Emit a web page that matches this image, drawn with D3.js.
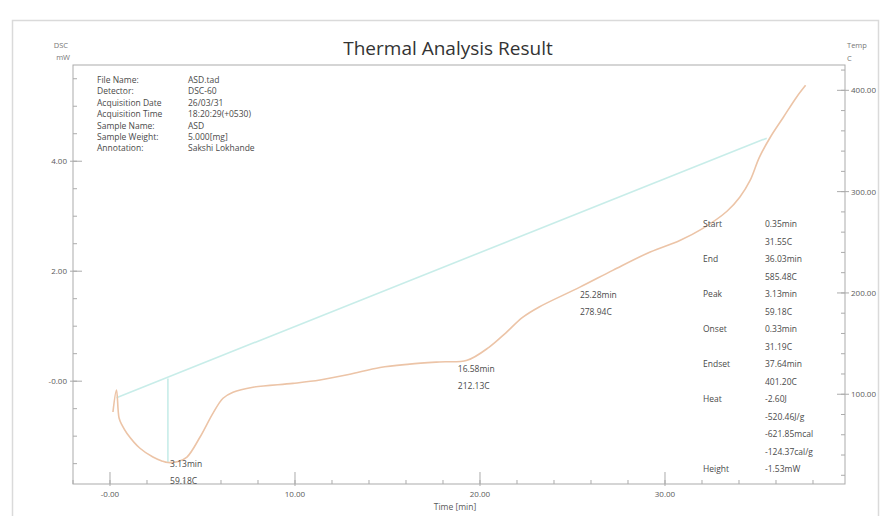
<!DOCTYPE html>
<html>
<head>
<meta charset="utf-8">
<script src="https://cdn.jsdelivr.net/npm/d3@7"></script>
<style>
  html, body { margin: 0; padding: 0; background: #fff; }
  svg { display: block; font-family: "Open Sans", "Noto Sans", sans-serif; }
</style>
</head>
<body>
<svg id="chart" width="888" height="516"></svg>
<script>
// DSC trace: time [min] vs heat flow [mW]
const timeMin = [0.16, 0.35, 0.49, 0.65, 0.92, 1.62, 2.32, 2.8, 3.13, 3.68, 4.16, 4.86, 5.57, 6.11, 6.65, 7.73, 9.89,
  11.35, 12.9, 14.6, 16.2, 17.8, 19.3, 20.5, 21.4, 22.3, 23.2, 25.4, 27.2, 29.2, 30.8, 32.05, 33.35, 34.05,
  34.6, 35.1, 35.7, 36.4, 37.1, 37.6];
const dscMw = [-0.56, -0.16, -0.67, -0.80, -0.95, -1.22, -1.38, -1.45, -1.48, -1.46, -1.38, -1.02, -0.58, -0.31, -0.20, -0.11, -0.04,
  0.02, 0.12, 0.25, 0.31, 0.35, 0.38, 0.62, 0.88, 1.16, 1.35, 1.71, 2.02, 2.35, 2.56, 2.78, 3.09, 3.35,
  3.65, 4.07, 4.44, 4.80, 5.16, 5.38];

// Integration baseline (Start -> End) and peak height marker
const baselineTime = [0.35, 35.5];
const baselineDsc = [-0.30, 4.42];
const peakTime = 3.13;
const peakRange = [-1.48, 0.05];

// Axis ticks
const xMajor = [0, 10, 20, 30];
const xTickLabels = ["-0.00", "10.00", "20.00", "30.00"];
const yMajor = [0, 2, 4];
const yTickLabels = ["-0.00", "2.00", "4.00"];
const tMajor = [100, 200, 300, 400];
const tTickLabels = ["100.00", "200.00", "300.00", "400.00"];

// Sample information block
const infoLabels = ["File Name:", "Detector:", "Acquisition Date", "Acquisition Time", "Sample Name:", "Sample Weight:", "Annotation:"];
const infoValues = ["ASD.tad", "DSC-60", "26/03/31", "18:20:29(+0530)", "ASD", "5.000[mg]", "Sakshi Lokhande"];

// Peak analysis results
const resultLabels = ["Start", "", "End", "", "Peak", "", "Onset", "", "Endset", "", "Heat", "", "", "", "Height"];
const resultValues = ["0.35min", "31.55C", "36.03min", "585.48C", "3.13min", "59.18C", "0.33min", "31.19C",
  "37.64min", "401.20C", "-2.60J", "-520.46J/g", "-621.85mcal", "-124.37cal/g", "-1.53mW"];

// Point annotations on the curve: [time, dsc, line1, line2]
const pointNotes = [
  [3.25, -1.56, "3.13min", "59.18C"],
  [18.8, 0.16, "16.58min", "212.13C"],
  [25.4, 1.52, "25.28min", "278.94C"]
];

const svg = d3.select("#chart");
const L = 73, R = 845, T = 65, B = 484;

const x = d3.scaleLinear().domain([-2.0, 39.73]).range([L, R]);
const y = d3.scaleLinear().domain([-1.87, 5.75]).range([B, T]);
const yT = d3.scaleLinear().domain([11.4, 425]).range([B, T]);

const axisColor = "#ababab";
const textColor = "#5a5a5a";

// outer frame
svg.append("rect").attr("x", 12.5).attr("y", 20.5).attr("width", 866).attr("height", 520)
  .attr("fill", "none").attr("stroke", "#dadada").attr("stroke-width", 1.5);

// plot frame
svg.append("rect").attr("x", L).attr("y", T).attr("width", R - L).attr("height", B - T)
  .attr("fill", "none").attr("stroke", axisColor).attr("stroke-width", 1);

// title
svg.append("text").attr("x", 448).attr("y", 55).attr("text-anchor", "middle")
  .attr("font-size", 19).attr("fill", "#333").text("Thermal Analysis Result");

// unit labels
const unit = (tx, ty, anchor, s) => svg.append("text").attr("x", tx).attr("y", ty)
  .attr("text-anchor", anchor).attr("font-size", 7.5).attr("fill", "#777").text(s);
unit(68, 48, "end", "DSC");
unit(70, 60, "end", "mW");
unit(847, 48, "start", "Temp");
unit(847, 61, "start", "C");

const g = svg.append("g");

// x axis ticks (inward)
const xMinor = d3.range(-2, 39.5, 2);
g.selectAll(".xmin").data(xMinor).join("line")
  .attr("x1", d => x(d)).attr("x2", d => x(d)).attr("y1", B).attr("y2", B - 4)
  .attr("stroke", axisColor);
g.selectAll(".xmaj").data(xMajor).join("line")
  .attr("x1", d => x(d)).attr("x2", d => x(d)).attr("y1", B + 2).attr("y2", B - 12)
  .attr("stroke", axisColor);
g.selectAll(".xlab").data(xMajor).join("text")
  .attr("x", d => x(d)).attr("y", B + 13).attr("text-anchor", "middle")
  .attr("font-size", 8).attr("fill", textColor).text((d, i) => xTickLabels[i]);
svg.append("text").attr("x", 455).attr("y", 510).attr("text-anchor", "middle")
  .attr("font-size", 8.5).attr("fill", textColor).text("Time [min]");

// left DSC axis ticks
const yMinor = d3.range(-1.5, 5.6, 0.5);
g.selectAll(".ymin").data(yMinor).join("line")
  .attr("x1", L).attr("x2", L + 4).attr("y1", d => y(d)).attr("y2", d => y(d))
  .attr("stroke", axisColor);
g.selectAll(".ymaj").data(yMajor).join("line")
  .attr("x1", L - 3).attr("x2", L + 9).attr("y1", d => y(d)).attr("y2", d => y(d))
  .attr("stroke", axisColor);
g.selectAll(".ylab").data(yMajor).join("text")
  .attr("x", 67).attr("y", d => y(d) + 3).attr("text-anchor", "end")
  .attr("font-size", 8).attr("fill", textColor).text((d, i) => yTickLabels[i]);

// right temperature axis ticks
const tMinor = d3.range(20, 421, 20);
g.selectAll(".tmin").data(tMinor).join("line")
  .attr("x1", R - 4).attr("x2", R).attr("y1", d => yT(d)).attr("y2", d => yT(d))
  .attr("stroke", axisColor);
g.selectAll(".tmaj").data(tMajor).join("line")
  .attr("x1", R - 8).attr("x2", R + 4).attr("y1", d => yT(d)).attr("y2", d => yT(d))
  .attr("stroke", axisColor);
g.selectAll(".tlab").data(tMajor).join("text")
  .attr("x", 851).attr("y", d => yT(d) + 3).attr("text-anchor", "start")
  .attr("font-size", 8).attr("fill", textColor).text((d, i) => tTickLabels[i]);

// baseline and peak marker
const baseColor = "#c8ede9";
svg.append("path")
  .datum(baselineTime.map((t, i) => [t, baselineDsc[i]]))
  .attr("d", d3.line().x(d => x(d[0])).y(d => y(d[1])))
  .attr("fill", "none").attr("stroke", baseColor).attr("stroke-width", 1.6);
svg.append("line")
  .attr("x1", x(peakTime)).attr("x2", x(peakTime))
  .attr("y1", y(peakRange[0])).attr("y2", y(peakRange[1]))
  .attr("stroke", baseColor).attr("stroke-width", 1.6);

// DSC curve
svg.append("path")
  .datum(timeMin.map((t, i) => [t, dscMw[i]]))
  .attr("d", d3.line().x(d => x(d[0])).y(d => y(d[1])).curve(d3.curveCatmullRom.alpha(0.5)))
  .attr("fill", "none").attr("stroke", "#ecc4a7").attr("stroke-width", 1.6);

// sample information
const info = svg.append("g").attr("font-size", 8.5).attr("fill", "#4a4a4a");
infoLabels.forEach((s, i) => {
  info.append("text").attr("x", 97).attr("y", 83 + i * 11.4).text(s);
  info.append("text").attr("x", 188).attr("y", 83 + i * 11.4).text(infoValues[i]);
});

// results table
const res = svg.append("g").attr("font-size", 8.5).attr("fill", "#4a4a4a");
resultValues.forEach((s, i) => {
  const yy = 227 + i * 17.5;
  if (resultLabels[i]) res.append("text").attr("x", 703).attr("y", yy).text(resultLabels[i]);
  res.append("text").attr("x", 765).attr("y", yy).text(s);
});

// curve annotations
const notes = svg.append("g").attr("font-size", 8.5).attr("fill", "#4a4a4a");
pointNotes.forEach(([t, v, a, b]) => {
  notes.append("text").attr("x", x(t)).attr("y", y(v)).text(a);
  notes.append("text").attr("x", x(t)).attr("y", y(v) + 17).text(b);
});
</script>
</body>
</html>
